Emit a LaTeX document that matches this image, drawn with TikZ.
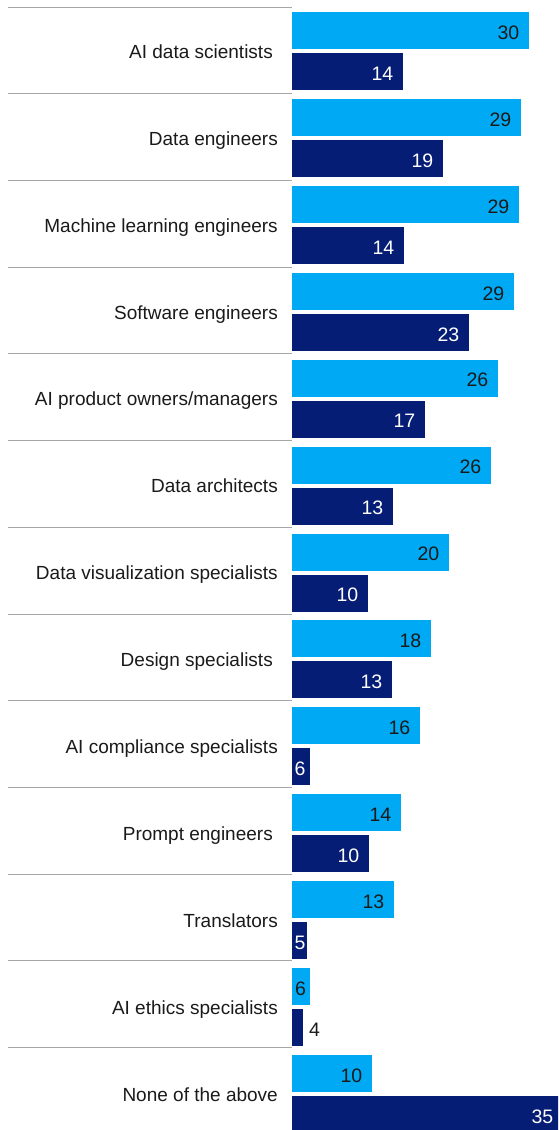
\documentclass[tikz,border=0pt]{standalone}
\usepackage{fontspec}
\setmainfont{Liberation Sans}
\definecolor{lightbar}{HTML}{00A9F4}
\definecolor{darkbar}{HTML}{051D74}
\definecolor{sepgray}{HTML}{A6A6A6}
\definecolor{textgray}{HTML}{1A1A1A}
\tikzset{
  rowlabel/.style={anchor=base east, inner sep=0pt, text=textgray, font=\fontsize{19}{22}\selectfont},
  barnum/.style={inner sep=0pt, text=textgray, font=\fontsize{19.5}{22}\selectfont},
}
\begin{document}
\begin{tikzpicture}[x=1pt, y=-1pt]
% Khung hình
\clip (0,0) rectangle (558,1130);

% Các hàng: nhãn / lệch / cuối thanh sáng / giá trị / cuối thanh tối / giá trị
\foreach \lab/\dx/\lend/\lv/\dend/\dv [count=\i from 0] in {
  AI data scientists/5/529/30/403/14,
  Data engineers/0/521/29/443/19,
  Machine learning engineers/0/519/29/404/14,
  Software engineers/0/514/29/469/23,
  {AI product owners/managers}/0/498/26/425/17,
  Data architects/0/491/26/393/13,
  Data visualization specialists/0/449/20/368/10,
  Design specialists/5/431/18/392/13,
  AI compliance specialists/0/420/16/310/6,
  Prompt engineers/5/401/14/369/10,
  Translators/0/394/13/307/5,
  AI ethics specialists/0/310/6/303/4,
  None of the above/0/372/10/563/35}{
  \pgfmathsetmacro{\ysep}{7+86.72*\i}
  \pgfmathsetmacro{\ytop}{12+86.92*\i}
  \pgfmathsetmacro{\ydark}{\ytop+41}

  % Đường phân cách
  \draw[sepgray, line width=1pt] (8,\ysep) -- (292,\ysep);

  % Vẽ các thanh
  \fill[lightbar] (292,\ytop) rectangle (\lend,\ytop+37);
  \fill[darkbar] (292,\ydark) rectangle (\dend,\ydark+37);

  % Gán nhãn
  \node[rowlabel] (lab\i) at (278-\dx,\ytop+46.3) {\lab};
  \ifnum\lend>320
    \node[barnum, anchor=base east] (lv\i) at (\lend-9.5,\ytop+27.3) {\lv};
  \else
    \node[barnum, anchor=base west] (lv\i) at (295,\ytop+27.3) {\lv};
  \fi
  \ifnum\dend>320
    \node[barnum, text=white, anchor=base east] (dv\i) at (\dend-9.5,\ydark+27.3) {\dv};
  \else\ifnum\dend>305
    \node[barnum, text=white, anchor=base west] (dv\i) at (294.5,\ydark+27.3) {\dv};
  \else
    \node[barnum, anchor=base west] (dv\i) at (\dend+6,\ydark+27.3) {\dv};
  \fi\fi
}
\end{tikzpicture}
\end{document}
